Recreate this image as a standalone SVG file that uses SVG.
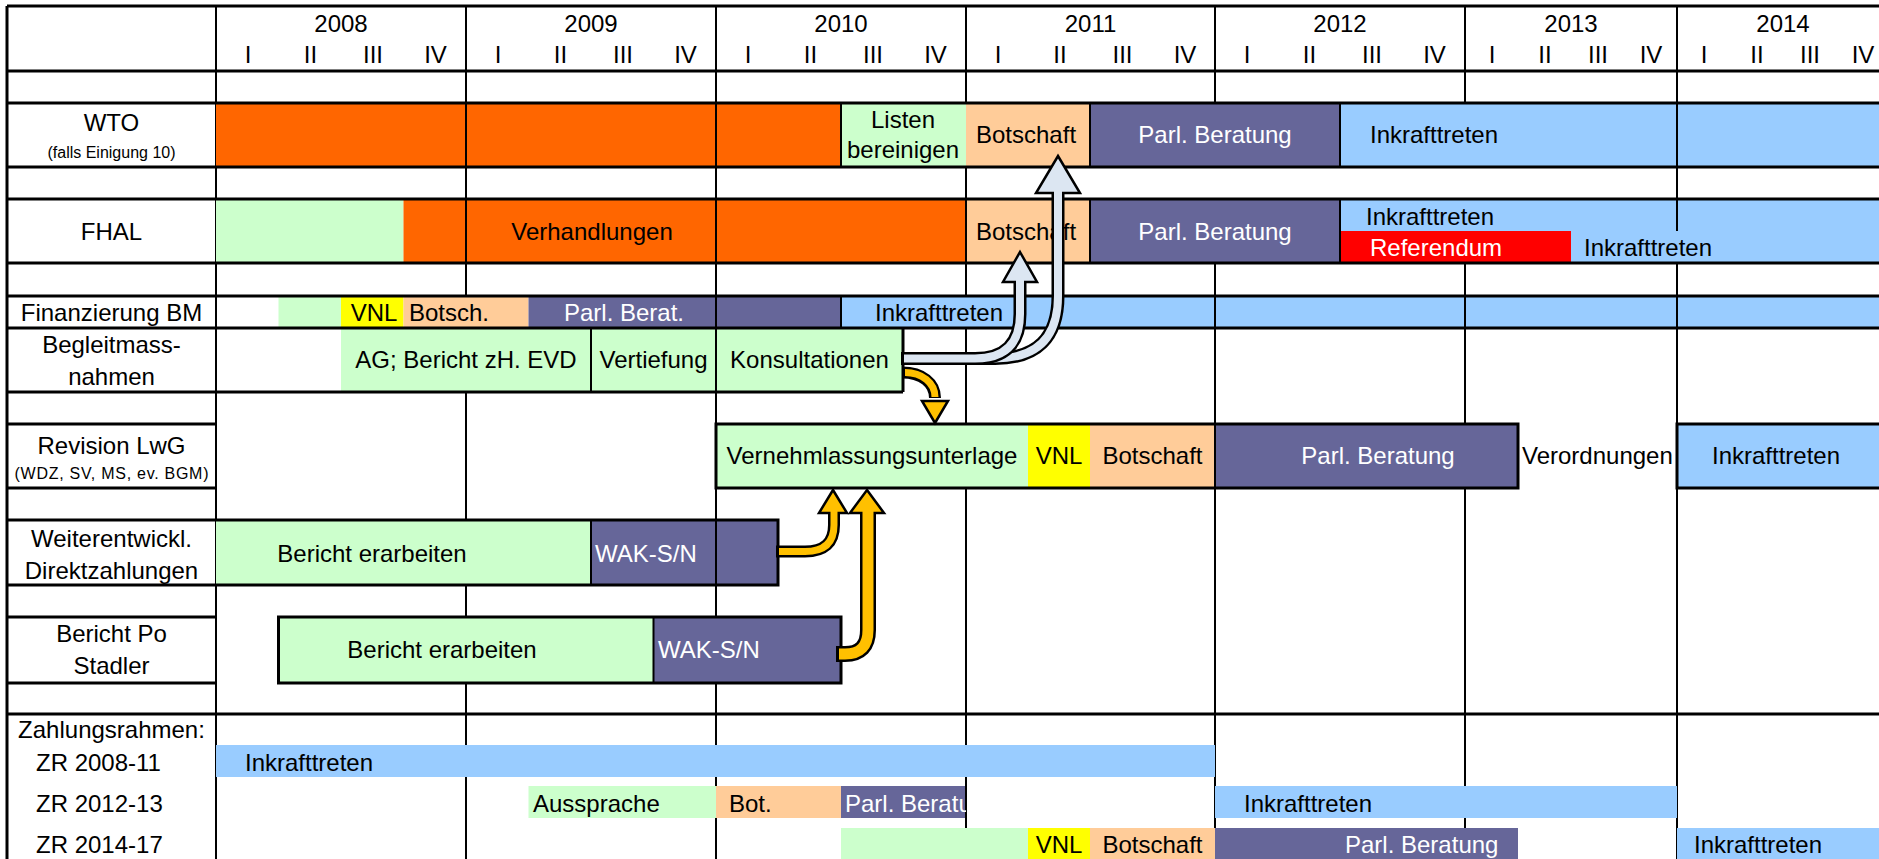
<svg xmlns="http://www.w3.org/2000/svg" width="1879" height="859" viewBox="0 0 1879 859">
<style>
text{font-family:"Liberation Sans",Arial,Helvetica,sans-serif;font-size:24px;fill:#000}
.w{fill:#fff}
.s{font-size:16px}
.c{text-anchor:middle}
.gl{stroke:#000;stroke-width:2;fill:none}
.hl{stroke:#000;stroke-width:3;fill:none}
.or{fill:#FF6600}.gr{fill:#CCFFCC}.pe{fill:#FFCC99}.pu{fill:#666699}.bl{fill:#99CCFF}.ye{fill:#FFFF00}.rd{fill:#FF0000}
.ao{fill:none;stroke:#000;stroke-width:13}
.ai{fill:none;stroke:#DCE6F2;stroke-width:8}
.ah{fill:#DCE6F2;stroke:#000;stroke-width:2.5;stroke-linejoin:miter}
.yo{fill:none;stroke:#000;stroke-width:12}
.yi{fill:none;stroke:#FFC000;stroke-width:7}
.yh{fill:#FFC000;stroke:#000;stroke-width:2.5;stroke-linejoin:miter}
</style>
<defs>
<clipPath id="clipZR"><rect x="841" y="786" width="125" height="32"/></clipPath>
</defs>
<rect x="0" y="0" width="1879" height="859" fill="#fff"/>

<g id="grid">
<path class="gl" d="M216,6V859M466,6V859M716,6V859M966,6V859M1215,6V167M1215,199V859M1465,6V167M1465,199V859M1677,6V859"/>
</g>

<g id="header">
<text class="c" x="341" y="32">2008</text>
<text class="c" x="591" y="32">2009</text>
<text class="c" x="841" y="32">2010</text>
<text class="c" x="1090.5" y="32">2011</text>
<text class="c" x="1340" y="32">2012</text>
<text class="c" x="1571" y="32">2013</text>
<text class="c" x="1783" y="32">2014</text>
<text class="c" x="248" y="63">I</text><text class="c" x="310.5" y="63">II</text><text class="c" x="373" y="63">III</text><text class="c" x="435.5" y="63">IV</text>
<text class="c" x="498" y="63">I</text><text class="c" x="560.5" y="63">II</text><text class="c" x="623" y="63">III</text><text class="c" x="685.5" y="63">IV</text>
<text class="c" x="748" y="63">I</text><text class="c" x="810.5" y="63">II</text><text class="c" x="873" y="63">III</text><text class="c" x="935.5" y="63">IV</text>
<text class="c" x="998" y="63">I</text><text class="c" x="1060" y="63">II</text><text class="c" x="1122.5" y="63">III</text><text class="c" x="1185" y="63">IV</text>
<text class="c" x="1247" y="63">I</text><text class="c" x="1309.5" y="63">II</text><text class="c" x="1372" y="63">III</text><text class="c" x="1434.5" y="63">IV</text>
<text class="c" x="1492" y="63">I</text><text class="c" x="1545" y="63">II</text><text class="c" x="1598" y="63">III</text><text class="c" x="1651" y="63">IV</text>
<text class="c" x="1704" y="63">I</text><text class="c" x="1757" y="63">II</text><text class="c" x="1810" y="63">III</text><text class="c" x="1863" y="63">IV</text>
</g>

<g id="row-wto">
<rect class="or" x="216" y="103" width="625" height="64"/>
<rect class="gr" x="841" y="103" width="125" height="64"/>
<rect class="pe" x="966" y="103" width="124" height="64"/>
<rect class="pu" x="1090" y="103" width="250" height="64"/>
<rect class="bl" x="1340" y="103" width="539" height="64"/>
<path class="gl" d="M466,103V167M716,103V167M841,103V167M1090,103V167M1340,103V167M1677,103V167"/>
<text class="c" x="111.5" y="131">WTO</text>
<text class="c s" x="111.5" y="158">(falls Einigung 10)</text>
<text class="c" x="903" y="128">Listen</text>
<text class="c" x="903" y="158">bereinigen</text>
<text x="976" y="143">Botschaft</text>
<text class="c w" x="1215" y="143">Parl. Beratung</text>
<text x="1370" y="143">Inkrafttreten</text>
</g>

<g id="row-fhal">
<rect class="gr" x="216" y="199" width="187.5" height="64"/>
<rect class="or" x="403.5" y="199" width="562.5" height="64"/>
<rect class="pe" x="966" y="199" width="124" height="64"/>
<rect class="pu" x="1090" y="199" width="250" height="64"/>
<rect class="bl" x="1340" y="199" width="539" height="64"/>
<rect class="rd" x="1340" y="231" width="231" height="32"/>
<path class="gl" d="M466,199V263M716,199V263M966,199V263M1090,199V263M1340,199V263M1677,199V231"/>
<text class="c" x="111.5" y="240">FHAL</text>
<text class="c" x="592" y="240">Verhandlungen</text>
<text x="976" y="240">Botschaft</text>
<text class="c w" x="1215" y="240">Parl. Beratung</text>
<text x="1366" y="225">Inkrafttreten</text>
<text class="w" x="1370" y="256">Referendum</text>
<text x="1584" y="256">Inkrafttreten</text>
</g>

<g id="row-finanzierung">
<rect class="gr" x="278.5" y="296" width="62.5" height="32"/>
<rect class="ye" x="341" y="296" width="62.5" height="32"/>
<rect class="pe" x="403.5" y="296" width="125" height="32"/>
<rect class="pu" x="528.5" y="296" width="312.5" height="32"/>
<rect class="bl" x="841" y="296" width="1038" height="32"/>
<path class="gl" d="M716,296V328M841,296V328M1215,296V328M1465,296V328M1677,296V328"/>
<text class="c" x="111.5" y="321">Finanzierung BM</text>
<text class="c" x="374" y="321">VNL</text>
<text x="409" y="321">Botsch.</text>
<text class="c w" x="624" y="321">Parl. Berat.</text>
<text x="875" y="321">Inkrafttreten</text>
</g>

<g id="row-begleit">
<rect class="gr" x="341" y="328" width="562" height="64"/>
<path class="gl" d="M591,328V392M716,328V392"/>
<path class="hl" d="M903,328V392M7,392H903"/>
<text class="c" x="111.5" y="353">Begleitmass-</text>
<text class="c" x="111.5" y="385">nahmen</text>
<text class="c" x="466" y="368">AG; Bericht zH. EVD</text>
<text class="c" x="653.5" y="368">Vertiefung</text>
<text class="c" x="809.5" y="368">Konsultationen</text>
</g>

<g id="row-revision">
<rect class="gr" x="716" y="424" width="312" height="64"/>
<rect class="ye" x="1028" y="424" width="62" height="64"/>
<rect class="pe" x="1090" y="424" width="125" height="64"/>
<rect class="pu" x="1215" y="424" width="303" height="64"/>
<rect class="bl" x="1677" y="424" width="202" height="64"/>
<path class="gl" d="M1215,424V488"/>
<path class="hl" d="M7,424H216M7,488H216M716,424H1518V488H716ZM1879,424H1677V488H1879"/>
<text class="c" x="111.5" y="454">Revision LwG</text>
<text class="c s" x="111.5" y="479" textLength="194" lengthAdjust="spacing">(WDZ, SV, MS, ev. BGM)</text>
<text class="c" x="872" y="464">Vernehmlassungsunterlage</text>
<text class="c" x="1059" y="464">VNL</text>
<text class="c" x="1152.5" y="464">Botschaft</text>
<text class="c w" x="1378" y="464">Parl. Beratung</text>
<text x="1522" y="464">Verordnungen</text>
<text x="1712" y="464">Inkrafttreten</text>
</g>

<g id="row-weiterentwicklung">
<rect class="gr" x="216" y="520" width="375" height="65"/>
<rect class="pu" x="591" y="520" width="187" height="65"/>
<path class="gl" d="M591,520V585M716,520V585"/>
<path class="hl" d="M7,520H778V585H7"/>
<text class="c" x="111.5" y="547">Weiterentwickl.</text>
<text class="c" x="111.5" y="579">Direktzahlungen</text>
<text class="c" x="372" y="562">Bericht erarbeiten</text>
<text class="w" x="595" y="562">WAK-S/N</text>
</g>

<g id="row-bericht-po">
<rect class="gr" x="278.5" y="617" width="375" height="66"/>
<rect class="pu" x="653.5" y="617" width="187.5" height="66"/>
<path class="gl" d="M653.5,617V683"/>
<path class="hl" d="M7,617H216M7,683H216M278.5,617H841V683H278.5Z"/>
<text class="c" x="111.5" y="642">Bericht Po</text>
<text class="c" x="111.5" y="674">Stadler</text>
<text class="c" x="442" y="658">Bericht erarbeiten</text>
<text class="w" x="658" y="658">WAK-S/N</text>
</g>

<g id="row-zahlungsrahmen">
<rect class="bl" x="216" y="745" width="999" height="32"/>
<rect class="gr" x="528.5" y="786" width="187.5" height="32"/>
<rect class="pe" x="716" y="786" width="125" height="32"/>
<rect class="pu" x="841" y="786" width="124" height="32"/>
<rect class="bl" x="1215" y="786" width="462" height="32"/>
<rect class="gr" x="841" y="828" width="187" height="31"/>
<rect class="ye" x="1028" y="828" width="62" height="31"/>
<rect class="pe" x="1090" y="828" width="125" height="31"/>
<rect class="pu" x="1215" y="828" width="303" height="31"/>
<rect class="bl" x="1677" y="828" width="202" height="31"/>
<text class="c" x="111.5" y="738">Zahlungsrahmen:</text>
<text x="36" y="771">ZR 2008-11</text>
<text x="36" y="812">ZR 2012-13</text>
<text x="36" y="853">ZR 2014-17</text>
<text x="245" y="771">Inkrafttreten</text>
<text x="533" y="812">Aussprache</text>
<text x="729" y="812">Bot.</text>
<text class="w" x="845" y="812" clip-path="url(#clipZR)">Parl. Beratung</text>
<text x="1244" y="812">Inkrafttreten</text>
<text class="c" x="1059" y="853">VNL</text>
<text class="c" x="1152.5" y="853">Botschaft</text>
<text class="w" x="1345" y="853">Parl. Beratung</text>
<text x="1694" y="853">Inkrafttreten</text>
</g>

<g id="frame">
<path class="hl" d="M7,6V859M7,6H1879M7,71H1879M7,103H1879M7,167H1879M7,199H1879M7,263H1879M7,296H1879M7,328H1879M7,714H1879"/>
</g>

<g id="connectors">
<path class="ao" d="M901,358.5H995Q1058,358.5 1058,296V190"/>
<polygon class="ah" points="1058,156 1080,193 1036,193"/>
<path class="ai" d="M904,358.5H995Q1058,358.5 1058,296V189"/>
<path class="ao" d="M901,358.5H975Q1020,358.5 1020,314V279"/>
<polygon class="ah" points="1020,252 1037,282 1003,282"/>
<path class="ai" d="M904,358.5H975Q1020,358.5 1020,314V278"/>

<path class="yo" d="M902,372.5C922,372.5 935,383 935,398"/>
<polygon class="yh" points="935,423 948,401 922,401"/>
<path class="yi" d="M905,372.5C922,372.5 935,383 935,397"/>

<path class="yo" d="M776,551.5H805Q834,551.5 834,525V510"/>
<polygon class="yh" points="833,490 847,513 819,513"/>
<path class="yi" d="M779,551.5H805Q834,551.5 834,525V509"/>

<path class="yo" style="stroke-width:16" d="M836,654H845Q868,654 868,630V510"/>
<polygon class="yh" points="867,490 884,513 850,513"/>
<path class="yi" style="stroke-width:11" d="M839,654H845Q868,654 868,630V509"/>
</g>
</svg>
